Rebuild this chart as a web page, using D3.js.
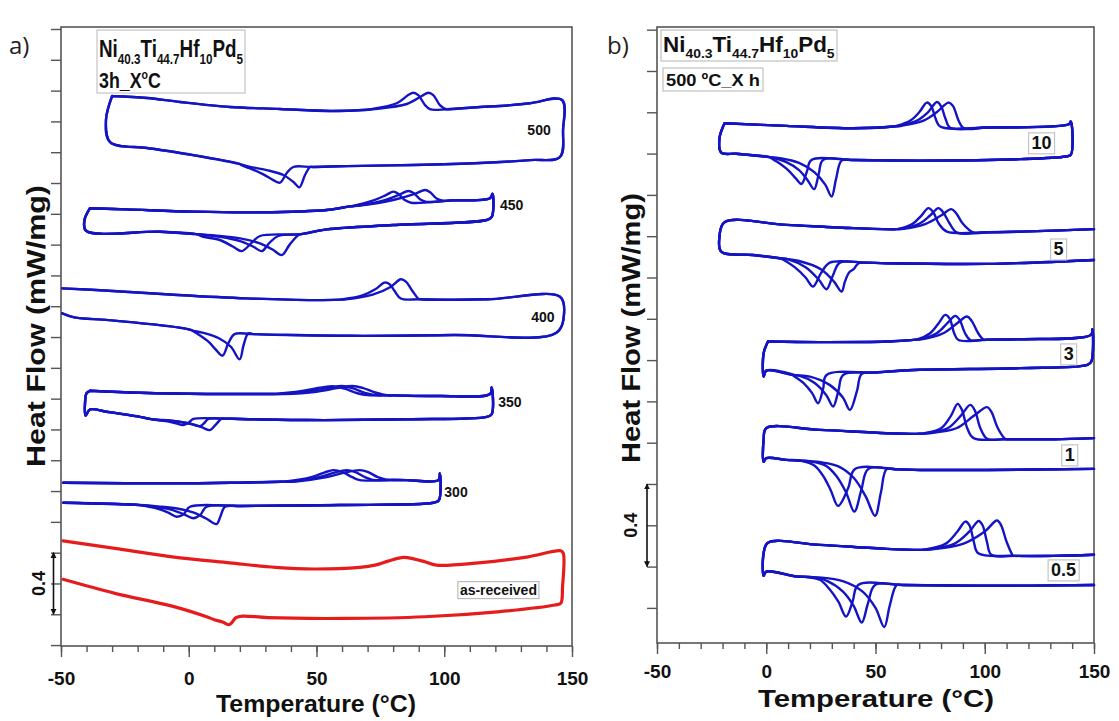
<!DOCTYPE html>
<html><head><meta charset="utf-8">
<script src="https://cdn.jsdelivr.net/npm/d3@7"></script>
<style>
body{margin:0;background:#fff}
svg{display:block}
.na{font-family:"Liberation Sans Narrow","Liberation Sans",Arial,sans-serif;font-weight:bold}
.nb{font-family:"Liberation Sans",Arial,sans-serif;font-weight:bold}
</style>
</head><body>
<svg id="c" width="1119" height="721"></svg>
<script>
// ---------------- DATA (Temperature °C, Heat flow mW/mg, stacked offsets) ----------------
const xTicksMajor = [-50, 0, 50, 100, 150];
const xTicksMinor = d3.range(-50, 151, 10);
const panelALabels = ["500", "450", "400", "350", "300", "as-received"];
const panelBLabels = ["10", "5", "3", "1", "0.5"];
const legendA = ["Ni", "40.3", "Ti", "44.7", "Hf", "10", "Pd", "5"];
const legendA2 = "3h_X";
const legendB2 = "500 ºC_X h";
const scaleBarValue = "0.4";
const scaleBarRange = [0.2, 0.6];

// Panel a — 500 °C
const a500Up = [[-30.0,3.565],[-16.3,3.552],[-3.4,3.526],[16.1,3.494],[35.7,3.481],[55.3,3.468],[68.2,3.474],[101.0,3.479],[114.0,3.494],[121.8,3.500],[133.6,3.518],[146.1,3.539]];
const a500UpPk = [
 [[70.9,3.479],[81.4,3.518],[85.9,3.571],[87.9,3.586],[89.8,3.571],[92.5,3.506],[94.4,3.479]],
 [[72.1,3.479],[85.3,3.513],[91.2,3.565],[93.8,3.586],[95.7,3.571],[98.3,3.506],[100.8,3.479]]];
const a500R = [[146.5,3.344]];
const a500Lo = [[145.3,3.169],[133.6,3.149],[114.0,3.130],[87.9,3.117],[61.9,3.110],[48.6,3.104],[20.1,3.123],[-3.4,3.195],[-16.3,3.227],[-30.8,3.266]];
const a500LoPk = [
 [[40.9,3.104],[38.3,3.063],[35.7,3.002],[33.1,3.019],[29.2,3.056],[24.0,3.095],[20.5,3.117]],
 [[47.5,3.104],[45.5,3.052],[43.3,2.972],[40.9,3.008],[37.0,3.052],[30.5,3.084],[22.7,3.110]]];
const a500L = [[-32.4,3.409]];

// Panel a — 450 °C
const a450Up = [[-38.7,2.836],[-24.3,2.829],[1.8,2.814],[27.9,2.810],[54.0,2.825],[63,2.848],[103,2.887],[117.9,2.901]];
const a450UpPk = [
 [[64.3,2.851],[72,2.885],[77,2.92],[80.1,2.944],[82,2.93],[84.5,2.89],[87,2.872]],
 [[66,2.853],[76,2.885],[82.5,2.925],[85.9,2.948],[88,2.935],[90.5,2.895],[93,2.878]],
 [[67,2.854],[80,2.89],[88.5,2.93],[92.5,2.955],[94.5,2.94],[97,2.90],[99.5,2.885]]];
const a450R = [[118.9,2.93],[118.6,2.78]];
const a450Lo = [[116.6,2.760],[80.1,2.727],[54.0,2.699],[44,2.668],[3,2.668],[-11.3,2.684],[-40.2,2.69]];
const a450LoPk = [
 [[27.9,2.656],[24.5,2.61],[20.7,2.558],[17.4,2.586],[12.2,2.630],[5.7,2.651]],
 [[35.0,2.656],[31.5,2.61],[28.6,2.558],[25.3,2.586],[20.1,2.623],[12.2,2.651]],
 [[42.9,2.662],[39.5,2.60],[36.4,2.532],[33.1,2.565],[27.9,2.608],[20.1,2.641],[12.2,2.656]]];
const a450L = [[-40.8,2.76]];

// Panel a — 400 °C
const a400Up = [[-49.5,2.316],[-31.3,2.301],[-4.3,2.273],[22.6,2.251],[49.6,2.240],[59,2.243],[90.5,2.245],[117.0,2.245],[145.3,2.262]];
const a400UpPk = [
 [[60.4,2.245],[68,2.27],[73,2.31],[76.6,2.353],[78.5,2.345],[80.5,2.30],[83,2.250]],
 [[61.5,2.245],[72,2.275],[79,2.325],[83.0,2.375],[85,2.36],[87.5,2.30],[90,2.247]]];
const a400R = [[146.9,2.154]];
const a400Lo = [[143.9,2.028],[103.5,2.013],[63.1,2.008],[25.3,2.019],[1.1,2.045],[-4.3,2.063],[-31.3,2.110],[-44.8,2.128],[-49.5,2.154]];
const a400LoPk = [
 [[17.9,2.019],[15.5,1.96],[13.2,1.879],[10.5,1.92],[7.8,1.969],[3.5,2.02],[1.5,2.04]],
 [[23.3,2.024],[21.5,1.95],[19.9,1.855],[16.5,1.937],[11.8,1.992],[6.5,2.024],[2,2.04]]];
const a400L = null;

// Panel a — 350 °C
const a350Up = [[-38.6,1.651],[-19.1,1.638],[7.0,1.630],[20.1,1.630],[32,1.630],[80,1.621],[98.3,1.617],[117.9,1.630]];
const a350UpPk = [
 [[33,1.630],[45,1.651],[52,1.673],[57,1.680],[61,1.665],[66,1.635],[70,1.623]],
 [[35,1.630],[47,1.648],[55,1.670],[60,1.682],[64,1.668],[69,1.638],[74,1.623]],
 [[37,1.630],[50,1.645],[58,1.668],[64,1.682],[68,1.670],[73,1.640],[78,1.621]]];
const a350R = [[118.6,1.673],[118.6,1.50]];
const a350Lo = [[116.6,1.482],[85.3,1.466],[46.2,1.461],[20.1,1.468],[14,1.470],[-19.1,1.482],[-32.1,1.515],[-38.6,1.530]];
const a350LoPk = [
 [[1.8,1.468],[0,1.445],[-2.1,1.429],[-5,1.44],[-9,1.455],[-14,1.465]],
 [[7.7,1.468],[6,1.44],[4.4,1.422],[1,1.435],[-4,1.45],[-10,1.462],[-15,1.467]],
 [[12.9,1.470],[10.5,1.43],[8.3,1.396],[5,1.415],[0,1.44],[-6,1.455],[-14,1.465]]];
const a350L = [[-40.4,1.49],[-40.6,1.57],[-40.0,1.635]];

// Panel a — 300 °C
const a300Up = [[-49.1,1.054],[-6.0,1.050],[20,1.055],[36,1.060],[80,1.072],[85.3,1.071],[97.7,1.071]];
const a300UpPk = [
 [[38,1.062],[48,1.09],[53,1.12],[56.6,1.136],[60,1.125],[64,1.09],[67,1.071]],
 [[40,1.062],[51,1.09],[57,1.12],[61.8,1.136],[65,1.125],[69,1.09],[72,1.073]],
 [[42,1.062],[54,1.09],[61,1.12],[67.0,1.136],[70,1.125],[74,1.09],[77,1.075]]];
const a300R = [[98.3,1.115],[97.9,0.94]];
const a300Lo = [[95.7,0.924],[59.2,0.909],[20.1,0.903],[-19.1,0.909],[-49.1,0.924]];
const a300LoPk = [
 [[0.5,0.898],[-2,0.85],[-4.7,0.833],[-8,0.86],[-12,0.885],[-16,0.9]],
 [[7.0,0.898],[4.5,0.845],[1.8,0.823],[-2,0.85],[-7,0.88],[-14,0.9]],
 [[14.2,0.898],[12.5,0.84],[10.9,0.786],[7,0.82],[2,0.86],[-4,0.885],[-12,0.9]]];
const a300L = null;

// Panel a — as-received (single red run)
const asUp = [[-49.2,0.677],[-28.9,0.628],[-6.5,0.573],[16.0,0.534],[34.0,0.505],[48.9,0.494],[66.9,0.505],[72.9,0.519],[78,0.545],[84.1,0.569],[88,0.56],[92.4,0.541],[96.9,0.519],[113.4,0.534],[132.8,0.573],[145.6,0.612]];
const asR = [[146.6,0.595],[146.3,0.379]];
const asLo = [[145.6,0.271],[143.3,0.260],[120.8,0.216],[92.4,0.184],[60.9,0.173],[31.0,0.178],[21,0.188],[18.5,0.178],[16.8,0.145],[15.7,0.132],[13.5,0.148],[10,0.165],[7.0,0.184],[-6.5,0.253],[-28.9,0.336],[-49.2,0.427]];

// Panel b — 10 h
const b10Up = [[-19.1,2.347],[9.2,2.334],[39.8,2.323],[58.2,2.331],[101.1,2.326],[138.5,2.342]];
const b10UpPk = [
 [[60,2.335],[66,2.36],[70,2.40],[73.5,2.447],[75.5,2.43],[77.5,2.37],[79.6,2.331]],
 [[61,2.335],[69,2.36],[74,2.40],[78.1,2.450],[80,2.43],[82,2.37],[84.2,2.325]],
 [[62,2.335],[72,2.36],[78,2.40],[83.4,2.447],[85.5,2.43],[88,2.36],[90.3,2.323]]];
const b10R = [[139.4,2.355],[139.4,2.194]];
const b10Lo = [[137.0,2.186],[116.3,2.173],[70.4,2.166],[39.8,2.169],[1.6,2.183],[-13.7,2.199],[-20.6,2.205]];
const b10LoPk = [
 [[20.7,2.169],[18.5,2.11],[16.1,2.053],[13.5,2.08],[10,2.12],[5,2.16],[2,2.18]],
 [[26.0,2.169],[24,2.10],[21.9,2.028],[19,2.07],[15,2.12],[9,2.16],[3,2.18]],
 [[34.5,2.166],[32,2.08],[29.9,1.992],[27,2.05],[22,2.11],[15,2.155],[6,2.178]]];
const b10L = [[-21.4,2.275]];

// Panel b — 5 h
const b5Up = [[-19.1,1.868],[9.2,1.855],[39.8,1.839],[59.7,1.834],[101.1,1.819],[116.3,1.822],[150,1.834]];
const b5UpPk = [
 [[61,1.836],[67,1.86],[71,1.90],[74.2,1.936],[76.5,1.915],[79,1.86],[82.7,1.822]],
 [[62,1.836],[70,1.86],[75,1.90],[78.8,1.936],[81,1.915],[84,1.86],[87.3,1.817]],
 [[63,1.836],[73,1.86],[80,1.90],[84.7,1.931],[87,1.91],[90,1.86],[94.9,1.817]]];
const b5R = null;
const b5Lo = [[150,1.685],[101.1,1.666],[55.1,1.669],[45,1.672],[6.2,1.693],[-6.1,1.709],[-20.6,1.725]];
const b5LoPk = [
 [[29.1,1.672],[25,1.62],[21.4,1.556],[18,1.60],[13,1.65],[8,1.685]],
 [[33.7,1.672],[30.5,1.61],[27.6,1.543],[24,1.59],[18,1.65],[10,1.688]],
 [[42.1,1.668],[40,1.64],[38,1.625],[36,1.58],[34.5,1.532],[31,1.58],[25,1.64],[15,1.68]]];
const b5L = [[-21.4,1.798]];

// Panel b — 3 h
const b3Up = [[0.8,1.290],[24.5,1.287],[55.1,1.290],[67.4,1.298],[101,1.299],[116.3,1.301],[148.6,1.322]];
const b3UpPk = [
 [[69,1.30],[75,1.33],[79,1.38],[81.9,1.419],[84,1.40],[86,1.33],[88,1.297]],
 [[70,1.30],[78,1.33],[83,1.38],[86.5,1.414],[88.5,1.395],[91,1.33],[93.4,1.297]],
 [[71,1.30],[81,1.33],[87.5,1.38],[91.9,1.411],[94,1.39],[97,1.33],[99.5,1.298]]];
const b3R = [[149.3,1.350],[148.8,1.193]];
const b3Lo = [[147.0,1.177],[116.3,1.161],[70.4,1.153],[50,1.140],[12.3,1.128],[0.0,1.149]];
const b3LoPk = [
 [[27.6,1.128],[26,1.06],[23.7,0.991],[21,1.04],[17,1.09],[12.5,1.125]],
 [[35.2,1.128],[33,1.05],[30.6,0.975],[27.5,1.03],[22,1.09],[15,1.125]],
 [[43.7,1.133],[41.5,1.05],[38.3,0.959],[35,1.02],[29,1.08],[20,1.12]]];
const b3L = [[-1.2,1.12],[-1.2,1.233]];

// Panel b — 1 h
const b1Up = [[0.0,0.870],[24.5,0.862],[55.1,0.846],[70.4,0.843],[109.8,0.817],[131.6,0.817],[150,0.822]];
const b1UpPk = [
 [[72,0.845],[80,0.87],[84.5,0.93],[87.6,0.988],[89.5,0.96],[92,0.87],[94.9,0.822]],
 [[73,0.845],[83,0.87],[89,0.93],[93.4,0.983],[95.5,0.955],[98,0.87],[101.1,0.819]],
 [[74,0.845],[87,0.87],[95,0.93],[101.1,0.972],[103,0.95],[106,0.87],[109.5,0.817]]];
const b1R = null;
const b1Lo = [[150,0.673],[101.1,0.668],[70.4,0.668],[60,0.671],[9.2,0.717],[0.0,0.725]];
const b1LoPk = [
 [[40.6,0.673],[37.5,0.58],[32.9,0.494],[29.5,0.57],[26,0.64],[22,0.69],[16,0.712]],
 [[46.7,0.673],[43.5,0.57],[40.3,0.466],[36.5,0.56],[32,0.64],[27,0.69],[20,0.71]],
 [[55.1,0.672],[52.5,0.56],[49.8,0.446],[45.5,0.54],[40,0.63],[33,0.685],[25,0.705]]];
const b1L = [[-1.2,0.708],[-1.2,0.814]];

// Panel b — 0.5 h
const b05Up = [[0.8,0.316],[24.5,0.305],[55.1,0.286],[70.4,0.281],[113.5,0.252],[131.6,0.252],[150,0.257]];
const b05UpPk = [
 [[73,0.283],[82,0.31],[87.5,0.37],[91.1,0.418],[93,0.40],[95,0.32],[97,0.265]],
 [[74,0.283],[86,0.31],[93,0.37],[97.2,0.421],[99,0.40],[101,0.32],[103,0.257]],
 [[75,0.283],[90,0.31],[100,0.37],[105.6,0.423],[107.5,0.40],[110,0.32],[113,0.252]]];
const b05R = null;
const b05Lo = [[150,0.111],[101.1,0.107],[62.8,0.111],[13.8,0.152],[0.0,0.176]];
const b05LoPk = [
 [[42.1,0.111],[39.5,0.03],[36.5,-0.042],[33,0.03],[29,0.09],[24.5,0.136],[18,0.15]],
 [[49.8,0.111],[46.5,0.02],[43.7,-0.071],[40,0.01],[35,0.08],[28,0.13],[20,0.15]],
 [[59.7,0.111],[56.5,0.01],[54.0,-0.093],[50,0.0],[44,0.08],[35,0.13],[24,0.148]]];
const b05L = [[-1.2,0.155],[-1.2,0.265]];

// ---------------- LAYOUT ----------------
const svg = d3.select("#c");
const BLUE = "#1414c4", RED = "#e61c1c", FRAME = "#555";

const A = {
  x: d3.scaleLinear().domain([-50,150]).range([61,572]),
  y: d3.scaleLinear().domain([-0.006,4.013]).range([646,27]),
  yt: d3.range(0, 4.001, 0.2)
};
const B = {
  x: d3.scaleLinear().domain([-50,150]).range([657,1094]),
  y: d3.scaleLinear().domain([-0.17,2.813]).range([643,27]),
  yt: d3.range(0, 2.801, 0.2)
};

// annotation anchors in data coordinates
const aLabelPos = [[137.1,3.344],[126.4,2.857],[138.6,2.132],[125.7,1.580],[104.6,0.995],[121.2,0.357]];
const bLabelPos = [[126.0,2.252],[133.8,1.738],[138.4,1.230],[138.9,0.741],[136.1,0.184]];

function mergeUp(base, pk){ if(!pk) return base.slice(); const a=pk[0][0], b=pk[pk.length-1][0];
  return base.filter(p=>p[0]<a).concat(pk, base.filter(p=>p[0]>b)); }
function mergeLo(base, pk){ if(!pk) return base.slice(); const a=pk[0][0], b=pk[pk.length-1][0];
  return base.filter(p=>p[0]>a).concat(pk, base.filter(p=>p[0]<b)); }
function loops(up, upPk, lo, loPk, R, L){
  const n = Math.max(upPk.length, loPk.length, 1), out=[];
  for(let i=0;i<n;i++){
    const u = mergeUp(up, upPk[Math.min(i, upPk.length-1)]);
    const l = mergeLo(lo, loPk[Math.min(i, loPk.length-1)]);
    if(R && L) out.push(u.concat(R, l, L, [u[0]]));
    else if(R) out.push(u.concat(R, l));
    else if(L) out.push(l.concat(L, u));
    else { out.push(u); out.push(l); }
  }
  return out;
}

const gAxes = svg.append("g");
const gCurves = svg.append("g");
const gText = svg.append("g");

function drawPanel(P){
  const g = gAxes.append("g");
  const [x0,x1] = P.x.range(), [y0,y1] = P.y.range();
  g.append("g").attr("transform",`translate(${x0},0)`)
    .call(d3.axisLeft(P.y).tickValues(P.yt).tickSize(10).tickFormat(""))
    .call(s=>s.select(".domain").remove())
    .selectAll("line").attr("stroke",FRAME).attr("stroke-width",1.4);
  g.append("g").attr("transform",`translate(0,${y0})`)
    .call(d3.axisBottom(P.x).tickValues(xTicksMinor).tickSize(6).tickFormat(""))
    .call(s=>s.select(".domain").remove())
    .selectAll("line").attr("stroke",FRAME).attr("stroke-width",1.4);
  g.append("rect").attr("x",x0).attr("y",y1).attr("width",x1-x0).attr("height",y0-y1)
    .attr("fill","none").attr("stroke",FRAME).attr("stroke-width",1.6);
}
drawPanel(A);
drawPanel(B);

function majorAxis(P, cls, pad, fs){
  const ax = gAxes.append("g").attr("transform",`translate(0,${P.y.range()[0]})`)
    .call(d3.axisBottom(P.x).tickValues(xTicksMajor).tickSize(11).tickPadding(pad).tickFormat(d=>d));
  ax.select(".domain").remove();
  ax.selectAll("line").attr("stroke",FRAME).attr("stroke-width",1.4);
  ax.selectAll("text").attr("class",cls).attr("font-size",fs).attr("fill","#111");
}
majorAxis(A,"na",15,19);
majorAxis(B,"nb",11,19);

// curves
const line = P => d3.line().x(d=>P.x(d[0])).y(d=>P.y(d[1])).curve(d3.curveCatmullRom.alpha(0.5));
const setsA = [
  loops(a500Up,a500UpPk,a500Lo,a500LoPk,a500R,a500L),
  loops(a450Up,a450UpPk,a450Lo,a450LoPk,a450R,a450L),
  loops(a400Up,a400UpPk,a400Lo,a400LoPk,a400R,a400L),
  loops(a350Up,a350UpPk,a350Lo,a350LoPk,a350R,a350L),
  loops(a300Up,a300UpPk,a300Lo,a300LoPk,a300R,a300L)
];
const setsB = [
  loops(b10Up,b10UpPk,b10Lo,b10LoPk,b10R,b10L),
  loops(b5Up,b5UpPk,b5Lo,b5LoPk,b5R,b5L),
  loops(b3Up,b3UpPk,b3Lo,b3LoPk,b3R,b3L),
  loops(b1Up,b1UpPk,b1Lo,b1LoPk,b1R,b1L),
  loops(b05Up,b05UpPk,b05Lo,b05LoPk,b05R,b05L)
];
function drawCurve(P, pts, col, w){
  gCurves.append("path").attr("d",line(P)(pts)).attr("fill","none").attr("stroke",col)
    .attr("stroke-width",w).attr("stroke-linejoin","round").attr("stroke-linecap","round");
}
setsA.flat().forEach(pts=>drawCurve(A,pts,BLUE,2.4));
loops(asUp,[],asLo,[],asR,null).forEach(pts=>drawCurve(A,pts,RED,3.2));
setsB.flat().forEach(pts=>drawCurve(B,pts,BLUE,2.4));

// helpers
function fitW(sel, w, ax){
  const bb = sel.node().getBBox(); const s = w/bb.width;
  sel.attr("transform",`translate(${ax},0) scale(${s},1) translate(${-ax},0)`);
  return sel;
}
function vText(h, cx, cy, fs, cls, txt){
  const t = gText.append("text").attr("class",cls).attr("font-size",fs).attr("text-anchor","middle").attr("fill","#111").text(txt);
  const w = t.node().getComputedTextLength(); const s = h/w;
  t.attr("transform",`translate(${cx},${cy}) rotate(-90) scale(${s},1)`);
  return t;
}
function boxedText(g, x, y, fs, cls, txt, padX, padY, stroke){
  const gg = g.append("g");
  const r = gg.append("rect");
  const t = gg.append("text").attr("class",cls).attr("font-size",fs).attr("text-anchor","middle")
    .attr("x",x).attr("y",y).attr("fill","#111").text(txt);
  const bb = t.node().getBBox();
  r.attr("x",bb.x-padX).attr("y",bb.y-padY).attr("width",bb.width+2*padX).attr("height",bb.height+2*padY)
    .attr("fill","#fff").attr("stroke",stroke).attr("stroke-width",1.2);
  return gg;
}

// sample labels panel a
panelALabels.forEach((lab,i)=>{
  const [T,v] = aLabelPos[i];
  if(lab==="as-received") boxedText(gText, A.x(T), A.y(v)+5, 14, "na", lab, 2, 0.5, "#bbb");
  else gText.append("text").attr("class","na").attr("font-size",14).attr("text-anchor","middle")
    .attr("x",A.x(T)).attr("y",A.y(v)+5).attr("fill","#111").text(lab);
});
// sample labels panel b
panelBLabels.forEach((lab,i)=>{
  const [T,v] = bLabelPos[i];
  boxedText(gText, B.x(T), B.y(v)+6.5, 18, "nb", lab, 3, 0.5, "#c4c4c4");
});

// legends
function formula(x, y, fs, cls){
  const t = gText.append("text").attr("class",cls).attr("font-size",fs).attr("x",x).attr("y",y).attr("fill","#111");
  legendA.forEach((s,i)=>{
    if(i%2===0) t.append("tspan").attr("dy", i===0?0:-fs*0.28).attr("font-size",fs).text(s);
    else t.append("tspan").attr("dy", fs*0.28).attr("font-size",fs*0.62).text(s);
  });
  return t;
}
gText.append("rect").attr("x",97).attr("y",30).attr("width",148).attr("height",63)
  .attr("fill","#fff").attr("stroke","#b8b8b8").attr("stroke-width",1);
fitW(formula(99,57,24,"na"),144,99);
const l2 = gText.append("text").attr("class","na").attr("font-size",22).attr("x",99).attr("y",88).attr("fill","#111");
l2.append("tspan").text(legendA2);
l2.append("tspan").attr("dy",-9).attr("font-size",13).text("o");
l2.append("tspan").attr("dy",9).text("C");
fitW(l2,62,99);

gText.append("rect").attr("x",661).attr("y",30).attr("width",176).attr("height",31)
  .attr("fill","#fff").attr("stroke","#c0c0c0").attr("stroke-width",1.2);
fitW(formula(663,52,22,"nb"),172,663);
gText.append("rect").attr("x",663).attr("y",68).attr("width",100).attr("height",23)
  .attr("fill","#fff").attr("stroke","#c0c0c0").attr("stroke-width",1.2);
fitW(gText.append("text").attr("class","nb").attr("font-size",17).attr("x",666).attr("y",86.5).attr("fill","#111").text(legendB2),94,666);

// panel tags
gText.append("text").attr("x",9).attr("y",54).attr("font-family","Open Sans, sans-serif").attr("font-size",24).attr("fill","#222").text("a)");
gText.append("text").attr("x",607).attr("y",54).attr("font-family","Open Sans, sans-serif").attr("font-size",24).attr("fill","#222").text("b)");

// axis titles
fitW(gText.append("text").attr("class","na").attr("font-size",23).attr("text-anchor","middle")
  .attr("x",316).attr("y",712).attr("fill","#111").text("Temperature (°C)"),200,316);
fitW(gText.append("text").attr("class","nb").attr("font-size",24).attr("text-anchor","middle")
  .attr("x",876).attr("y",707).attr("fill","#111").text("Temperature (°C)"),236,876);
vText(282,45,326,26,"nb","Heat Flow (mW/mg)");
vText(270,640,328,26,"nb","Heat Flow (mW/mg)");

// scale bars
const defs = svg.append("defs");
defs.append("marker").attr("id","ah").attr("viewBox","0 0 10 10").attr("refX",9).attr("refY",5)
  .attr("markerWidth",6).attr("markerHeight",7).attr("orient","auto-start-reverse").attr("markerUnits","userSpaceOnUse")
  .append("path").attr("d","M0,0L10,5L0,10Z").attr("fill","#111");
function scaleBar(P, xpx, lx){
  gText.append("line").attr("x1",xpx).attr("x2",xpx).attr("y1",P.y(scaleBarRange[0])).attr("y2",P.y(scaleBarRange[1]))
    .attr("stroke","#111").attr("stroke-width",1.6).attr("marker-start","url(#ah)").attr("marker-end","url(#ah)");
  const cy = P.y((scaleBarRange[0]+scaleBarRange[1])/2);
  gText.append("text").attr("class","nb").attr("font-size",18).attr("text-anchor","middle").attr("fill","#111")
    .attr("transform",`translate(${lx},${cy}) rotate(-90)`).text(scaleBarValue);
}
scaleBar(A, A.x.range()[0]-7.5, 45);
scaleBar(B, B.x.range()[0]-10, 637);
</script>
</body></html>
